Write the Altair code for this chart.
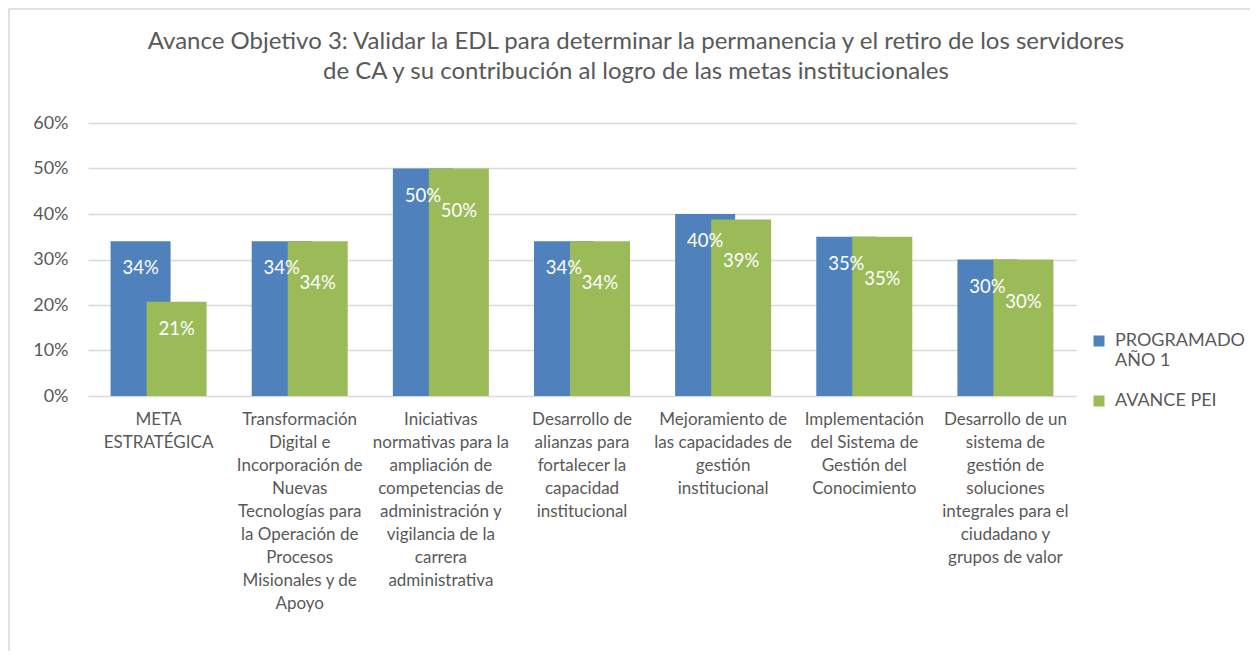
import altair as alt
import pandas as pd

title_lines = [
    "Avance Objetivo 3: Validar la EDL para determinar la permanencia y el retiro de los servidores",
    "de CA y su contribución al logro de las metas institucionales",
]
categories = [
    "META\nESTRATÉGICA",
    "Transformación\nDigital e\nIncorporación de\nNuevas\nTecnologías para\nla Operación de\nProcesos\nMisionales y de\nApoyo",
    "Iniciativas\nnormativas para la\nampliación de\ncompetencias de\nadministración y\nvigilancia de la\ncarrera\nadministrativa",
    "Desarrollo de\nalianzas para\nfortalecer la\ncapacidad\ninstitucional",
    "Mejoramiento de\nlas capacidades de\ngestión\ninstitucional",
    "Implementación\ndel Sistema de\nGestión del\nConocimiento",
    "Desarrollo de un\nsistema de\ngestión de\nsoluciones\nintegrales para el\nciudadano y\ngrupos de valor",
]
series = ["PROGRAMADO AÑO 1", "AVANCE PEI"]
programado = [0.34, 0.34, 0.50, 0.34, 0.40, 0.35, 0.30]
avance_pei = [0.207, 0.34, 0.50, 0.34, 0.388, 0.35, 0.30]
colors = ["#4F81BD", "#9BBB59"]

rows = []
for s, vals in zip(series, [programado, avance_pei]):
    for c, v in zip(categories, vals):
        rows.append({"cat": c, "serie": s, "valor": v})
df = pd.DataFrame(rows)
# green labels pushed lower when they would collide with the blue one
close = {c: abs(p - a) < 0.03 for c, p, a in zip(categories, programado, avance_pei)}
df["collide"] = [(r["serie"] == series[1]) and close[r["cat"]] for _, r in df.iterrows()]

FONT = "Lato"
GREY = "#595959"

x_enc = alt.X("cat:N", sort=categories, title=None,
              scale=alt.Scale(paddingInner=0, paddingOuter=0),
              axis=alt.Axis(labelAngle=0, labelExpr="split(datum.value, '\\n')",
                            labelFontSize=17, labelColor=GREY, labelFont=FONT,
                            labelLineHeight=23, labelPadding=15, labelLimit=200,
                            ticks=False, domain=False, labelBaseline="top"))
y_enc = alt.Y("valor:Q", title=None, stack=None,
              scale=alt.Scale(domain=[0, 0.6], nice=False),
              axis=alt.Axis(format=".0%", values=[0, 0.1, 0.2, 0.3, 0.4, 0.5, 0.6],
                            labelFontSize=18, labelColor=GREY, labelFont=FONT,
                            labelPadding=20, ticks=False, domain=False,
                            gridColor="#D9D9D9", gridWidth=1.3))

bars = alt.Chart(df).mark_bar(
    width=60,
    xOffset=alt.expr(f"datum.serie == '{series[1]}' ? 18 : -18"),
).encode(
    x=x_enc, y=y_enc,
    color=alt.Color("serie:N", sort=series,
                    scale=alt.Scale(domain=series, range=colors),
                    legend=alt.Legend(title=None, orient="none", legendX=1002, legendY=209,
                                      symbolType="square", symbolSize=121, symbolStrokeWidth=0,
                                      labelFontSize=18, labelColor=GREY, labelFont=FONT,
                                      labelExpr=f"datum.value == '{series[0]}' ? ['PROGRAMADO', 'AÑO 1'] : datum.value",
                                      rowPadding=22, labelOffset=7)),
)

texts = alt.Chart(df).mark_text(
    color="white", fontSize=18.5, font=FONT, baseline="middle",
    xOffset=alt.expr(f"datum.serie == '{series[1]}' ? 18 : -18"),
    yOffset=alt.expr("datum.collide ? 42 : 27"),
).encode(
    x=alt.X("cat:N", sort=categories),
    y=alt.Y("valor:Q", stack=None),
    text=alt.Text("valor:Q", format=".0%"),
)

title_df = pd.DataFrame({"t": ["\n".join(title_lines)]})
title = alt.Chart(title_df).mark_text(
    fontSize=24, font=FONT, color=GREY, align="center", baseline="top",
    lineBreak="\n", lineHeight=30, clip=False,
).encode(text="t:N", x=alt.value(548), y=alt.value(-93))

one = pd.DataFrame({"k": [0]})
border = alt.Chart(one).mark_rect(fill=None, fillOpacity=0, stroke="#D9D9D9", strokeWidth=1.5, clip=False).encode(
    x=alt.value(-79), x2=alt.value(1200), y=alt.value(-114), y2=alt.value(620))

chart = alt.layer(border, bars, texts, title).properties(
    width=988, height=273,
    padding={"left": 80, "top": 115, "right": 174, "bottom": 255},
    autosize=alt.AutoSizeParams(type="none"),
).configure_view(stroke=None)

chart.save("out.html", embed_options={"renderer": "svg", "actions": False})
